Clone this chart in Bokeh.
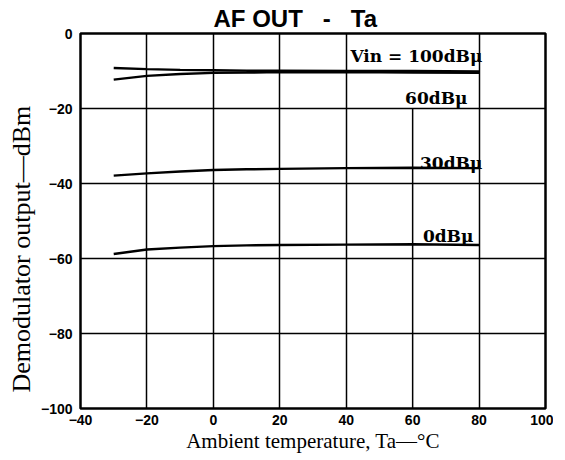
from bokeh.plotting import figure
from bokeh.models import FixedTicker, Label, Range1d, Title
from bokeh.embed import file_html
from bokeh.resources import INLINE

# ---- data ----
temps = [-30, -20, -10, 0, 10, 20, 40, 60, 80]
vin100 = [-9.2, -9.5, -9.7, -9.8, -9.9, -9.9, -10.0, -10.0, -10.1]
vin60 = [-12.3, -11.3, -10.8, -10.5, -10.4, -10.3, -10.3, -10.4, -10.5]
vin30 = [-37.9, -37.3, -36.8, -36.4, -36.2, -36.1, -35.9, -35.8, -35.9]
vin0 = [-58.8, -57.6, -57.1, -56.7, -56.5, -56.4, -56.3, -56.2, -56.4]

x_ticks = [-40, -20, 0, 20, 40, 60, 80, 100]
y_ticks = [0, -20, -40, -60, -80, -100]
x_grid = [-20, 0, 20, 40, 80]
y_grid = [-20, -40, -60, -80]
curve_labels = ["Vin = 100dBμ", "60dBμ", "30dBμ", "0dBμ"]
label_x = [81.0, 76.5, 81.0, 78.3]
label_y = [-5.9, -17.1, -34.4, -53.9]

NB = "\u00a0"
TITLE = "AF OUT" + NB * 3 + "-" + NB * 3 + "Ta"
XLABEL = "Ambient temperature, Ta—°C"
YLABEL = "Demodulator output—dBm"

p = figure(width=553, height=455, output_backend="svg", toolbar_location=None,
           x_range=Range1d(-40, 100), y_range=Range1d(-100, 0),
           min_border_left=80, min_border_right=8, min_border_top=33, min_border_bottom=47)
p.background_fill_color = "white"
p.outline_line_color = "black"
p.outline_line_width = 2.5

p.add_layout(Title(text=TITLE, align="left", text_font="Liberation Sans",
                   text_font_style="bold", text_font_size="24px", text_color="black",
                   standoff=3, offset=133), "above")

# grids
p.xgrid.ticker = FixedTicker(ticks=x_grid)
p.ygrid.ticker = FixedTicker(ticks=y_grid)
for g in (p.xgrid, p.ygrid):
    g.grid_line_color = "black"
    g.grid_line_width = 1.5
# partial gridline at 60 (starts below the 60dB label)
p.segment(x0=[x_ticks[5]], y0=[y_ticks[-1]], x1=[x_ticks[5]], y1=[y_grid[0]],
          line_color="black", line_width=1.5)

# axes
p.xaxis.ticker = FixedTicker(ticks=x_ticks)
p.yaxis.ticker = FixedTicker(ticks=y_ticks)
p.xaxis.major_label_overrides = {t: (str(t).replace("-", "−")) for t in x_ticks}
p.yaxis.major_label_overrides = {t: (str(t).replace("-", "−")) for t in y_ticks}
for ax in (p.xaxis, p.yaxis):
    ax.axis_line_color = None
    ax.major_tick_in = 0
    ax.major_tick_out = 0
    ax.minor_tick_in = 0
    ax.minor_tick_out = 0
    ax.major_label_text_font = "Liberation Sans"
    ax.major_label_text_font_style = "bold"
    ax.major_label_text_font_size = "14px"
    ax.major_label_text_color = "black"
    ax.axis_label_text_font = "Liberation Serif"
    ax.axis_label_text_font_style = "normal"
    ax.axis_label_text_color = "black"
p.xaxis.major_label_standoff = 6
p.yaxis.major_label_standoff = 8
p.xaxis.axis_label = XLABEL
p.xaxis.axis_label_text_font_size = "21px"
p.xaxis.axis_label_standoff = 1

# y-axis title placed off-centre like the reference
p.add_layout(Title(text=YLABEL, align="left", text_font="Liberation Serif",
                   text_font_style="normal", text_font_size="26px", text_color="black",
                   standoff=4, offset=16), "left")

# curves
for ys in (vin100, vin60, vin30, vin0):
    p.line(temps, ys, line_color="black", line_width=2.5)

# curve labels
for t, lx, ly in zip(curve_labels, label_x, label_y):
    p.add_layout(Label(x=lx, y=ly, text=t, text_align="right", text_baseline="alphabetic",
                       text_font="DejaVu Serif", text_font_style="bold",
                       text_font_size="17px", text_color="black"))

open("out.html", "w").write(file_html(p, INLINE))
